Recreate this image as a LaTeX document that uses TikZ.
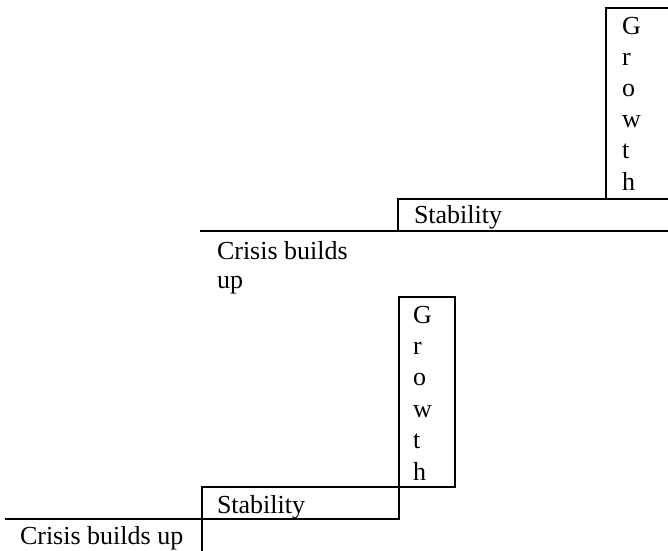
\documentclass[tikz,border=0pt]{standalone}
\usepackage{fontspec}
\setmainfont{Liberation Serif}
\begin{document}
\begin{tikzpicture}[x=1pt,y=-1pt,
  box/.style={draw, line width=1.6pt, inner sep=0pt, outer sep=0pt, anchor=north west},
  txt/.style={inner sep=0pt, outer sep=0pt, anchor=base west, font=\fontsize{26}{31}\selectfont},
  rule/.style={line width=1.6pt}]
\useasboundingbox (0,0) rectangle (668,550);
\clip (0,0) rectangle (668,550);
% upper step
\node[box, minimum width=90pt, minimum height=191pt] (growthA) at (606,8) {};
\node[box, minimum width=300pt, minimum height=32pt] (stabA) at (398,199) {};
\foreach \ch [count=\i] in {G,r,o,w,t,h}
  \node[txt] (growthA-\i) at (622,{34+31.2*(\i-1)}) {\ch};
\node[txt] (stabAtext) at (414,223) {Stability};
\coordinate (crisisAstart) at (200,231);
\coordinate (crisisAend) at (680,231);
\draw[rule] (crisisAstart) -- (crisisAend);
\node[txt] (crisisA1) at (217,259) {Crisis builds};
\node[txt] (crisisA2) at (217,288) {up};
% lower step
\node[box, minimum width=56pt, minimum height=190pt] (growthB) at (399,297) {};
\node[box, minimum width=197pt, minimum height=32pt] (stabB) at (202,487) {};
\foreach \ch [count=\i] in {G,r,o,w,t,h}
  \node[txt] (growthB-\i) at (413,{323+31.4*(\i-1)}) {\ch};
\node[txt] (stabBtext) at (217,513) {Stability};
\coordinate (crisisBstart) at (5,519);
\coordinate (crisisBcorner) at (202,519);
\coordinate (crisisBdown) at (202,560);
\draw[rule] (crisisBstart) -- (crisisBcorner) -- (crisisBdown);
\node[txt] (crisisB) at (20,544) {Crisis builds up};
\end{tikzpicture}
\end{document}
